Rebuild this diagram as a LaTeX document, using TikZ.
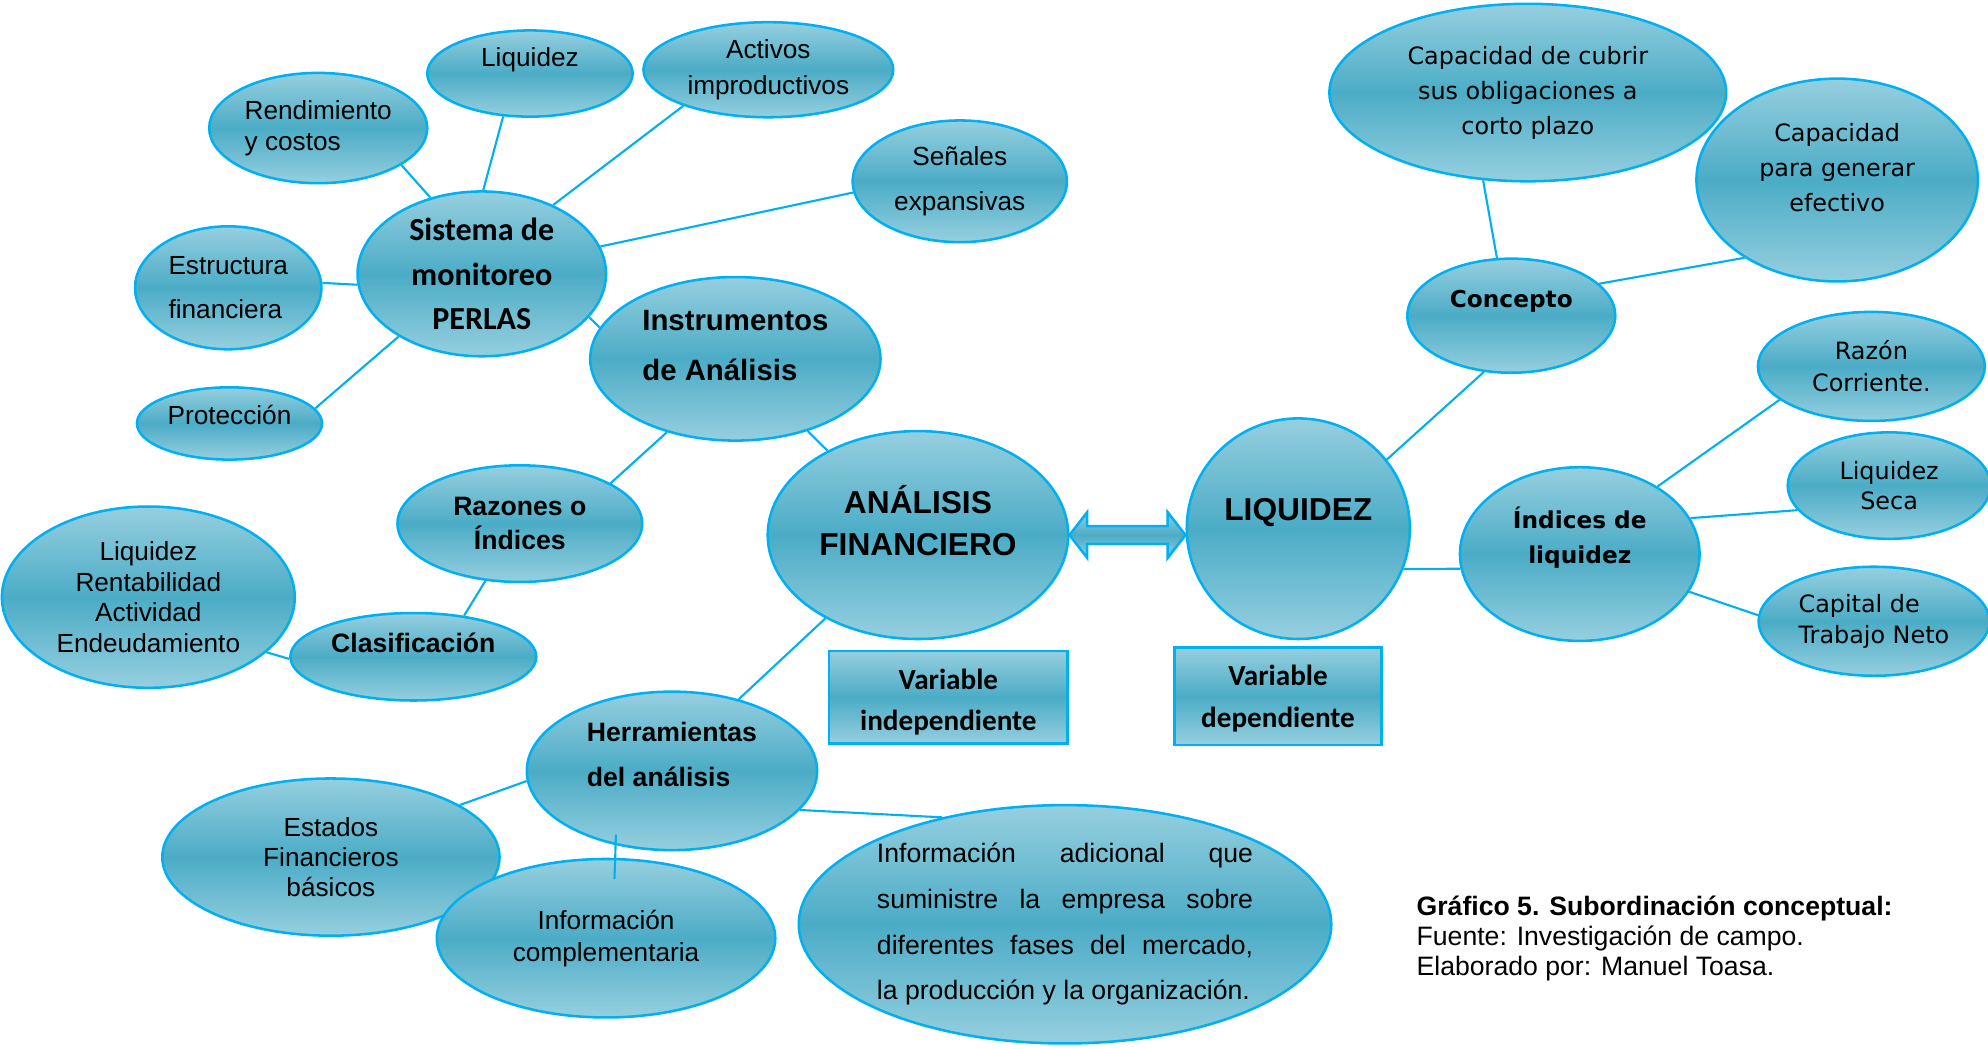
\documentclass[tikz,border=0pt]{standalone}
\usepackage{fontspec}
\setmainfont{Liberation Sans}
\newfontfamily\calibri{Carlito}
\newfontfamily\dejavu{DejaVu Sans}
\usetikzlibrary{shapes.geometric,calc}

\definecolor{aquaLite}{RGB}{150,207,223}
\definecolor{aquaDeep}{RGB}{75,172,198}
\definecolor{aquaLine}{RGB}{0,176,240}

\newcommand{\fs}[2]{\fontsize{#1}{#2}\selectfont}

\begin{document}
\begin{tikzpicture}[x=0.6pt, y=-0.6pt,
        bubble/.style={ellipse, draw=aquaLine, line width=1.2pt, inner sep=0pt, align=center,
            top color=aquaLite, bottom color=aquaLite, middle color=aquaDeep},
        varbox/.style={rectangle, draw=aquaLine, line width=1.2pt, inner sep=0pt, align=center,
            top color=aquaLite, bottom color=aquaLite, middle color=aquaDeep},
        dblarrow/.style={draw=aquaLine, line width=1.2pt,
            top color=aquaLite, bottom color=aquaLite, middle color=aquaDeep},
        dims/.style 2 args={minimum width=#1*0.6pt, minimum height=#2*0.6pt},
        link/.style={draw=aquaLine, line width=1pt}]

        \useasboundingbox (0,0) rectangle (1568,827);

        % 1. Sistema de monitoreo PERLAS (top left)
        \node[bubble, dims={172}{87}, align=left, font=\fs{12.4}{14.4}] (rend) at (251,101) {Rendimiento\\y costos};
        \node[bubble, dims={162}{68}, font=\fs{12.4}{14.4}, text depth=15.8pt] (liqA) at (418,58) {Liquidez};
        \node[bubble, dims={197}{75}, font=\fs{12.4}{16.8}] (activos) at (606,55) {Activos\\improductivos};
        \node[bubble, dims={169}{96}, font=\fs{12.4}{21.6}] (senales) at (757,143) {Señales\\expansivas};
        \node[bubble, dims={147}{97}, align=left, font=\fs{12.4}{21}] (estruc) at (180,227) {Estructura\\financiera};
        \node[bubble, dims={146}{57}, font=\fs{12.4}{14.4}, text depth=8.4pt] (protec) at (181,334) {Protección};
        \node[bubble, dims={196}{130}, font=\calibri\bfseries\fs{15.2}{21}] (sistema) at (380,216) {Sistema de\\monitoreo\\PERLAS};

        % 2. Instrumentos and Razones
        \node[bubble, dims={229}{129}, align=left, font=\bfseries\fs{13.9}{23.4}, text depth=12.6pt] (instr) at (580,283) {Instrumentos\\de Análisis};
        \node[bubble, dims={193}{92}, font=\bfseries\fs{12.6}{16.2}] (razones) at (410,413) {Razones o\\Índices};
        \node[bubble, dims={231}{143}, font=\fs{12.4}{14.4}] (clases) at (117,471) {Liquidez\\Rentabilidad\\Actividad\\Endeudamiento};
        \node[bubble, dims={194}{69}, font=\bfseries\fs{12.6}{14.4}, text depth=13.2pt] (clasif) at (326,518) {Clasificación};

        % 3. The two variables
        \node[bubble, dims={237}{164}, font=\bfseries\fs{15}{19.8}, text depth=13.8pt] (analisis) at (724,422) {ANÁLISIS\\FINANCIERO};
        \node[bubble, dims={176}{174}, font=\bfseries\fs{15}{18}, text depth=18.5pt] (liquidez) at (1024,417) {LIQUIDEZ};
        \node[varbox, dims={188}{73}, font=\calibri\bfseries\fs{13.8}{19.8}, text height=34pt] (varind) at (748,550) {Variable\\independiente};
        \node[varbox, dims={163}{77}, font=\calibri\bfseries\fs{13.8}{19.8}, text height=32pt] (vardep) at (1008,549) {Variable\\dependiente};

        % double arrow between them
        \coordinate (arrL) at (analisis.east);
        \coordinate (arrR) at (arrL -| liquidez.west);
        \draw[dblarrow] (arrL) -- ++(14,-18) -- ++(0,11) -- ($(arrR)+(-14,-7)$) -- ++(0,-11) -- (arrR)
            -- ++(-14,18) -- ++(0,-11) -- ($(arrL)+(14,7)$) -- ++(0,11) -- cycle;

        % 4. Herramientas del analisis (bottom)
        \node[bubble, dims={229}{125}, align=left, font=\bfseries\fs{12.6}{21.6}, text depth=15.6pt] (herram) at (530,608) {Herramientas\\del análisis};
        \node[bubble, dims={266}{124}, font=\fs{12.4}{14.4}] (estados) at (261,676) {Estados\\Financieros\\básicos};
        \node[bubble, dims={267}{125}, font=\fs{12.4}{15}] (infcomp) at (478,740) {Información\\complementaria};
        \node[bubble, dims={420}{188}, text width=178pt, align=justify, font=\fs{12.6}{21.6}] (infadic) at (840,729)
            {Información adicional que\linebreak suministre la empresa sobre\linebreak diferentes fases del mercado,\linebreak la producción y la organización.};

        % 5. Liquidez (right side)
        \node[bubble, dims={313}{140}, font=\dejavu\fs{11.3}{16.5}] (capcub) at (1205,73) {Capacidad de cubrir\\sus obligaciones a\\corto plazo};
        \node[bubble, dims={222}{160}, font=\dejavu\fs{11.3}{16.5}, text depth=12pt] (capgen) at (1449,142) {Capacidad\\para generar\\efectivo};
        \node[bubble, dims={164}{90}, font=\dejavu\bfseries\fs{11}{14}, text depth=15.5pt] (concepto) at (1192,249) {Concepto};
        \node[bubble, dims={189}{137}, font=\dejavu\bfseries\fs{11}{16.8}, text depth=17.9pt] (indices) at (1246,437) {Índices de\\liquidez};
        \node[bubble, dims={179}{86}, font=\dejavu\fs{11.3}{15}] (razon) at (1476,289) {Razón\\Corriente.};
        \node[bubble, dims={160}{84}, font=\dejavu\fs{11.3}{14.4}] (liqseca) at (1490,383) {Liquidez\\Seca};
        \node[bubble, dims={182}{86}, align=left, font=\dejavu\fs{11.3}{14.4}] (capital) at (1478,490) {Capital de\\Trabajo Neto};

        % 6. Connectors
        \draw[link] (rend.-24) -- (sistema.124);
        \draw[link] (liqA.238) -- (sistema.89);
        \draw[link] (sistema.44) -- (activos.203);
        \draw[link] (sistema.13) -- (senales.186);
        \draw[link] (estruc.3) -- (sistema.185);
        \draw[link] (protec.10) -- (sistema.217);
        \draw[link] (sistema.-22) -- (instr.167);
        \draw[link] (instr.227) -- (razones.24);
        \draw[link] (razones.239) -- (clasif.39);
        \draw[link] (clases.-25) -- (clasif.181);
        \draw[link] (instr.-45) -- (analisis.137);
        \draw[link] (analisis.222) -- (herram.47);
        \draw[link] (herram.184) -- (estados.22);
        \draw[link] ([yshift=5pt]herram.233) -- ([yshift=-10pt]infcomp.84);
        \draw[link] (herram.-17) -- (infadic.139);
        \draw[link] (capcub.243) -- (concepto.104);
        \draw[link] (concepto.20) -- (capgen.220);
        \draw[link] (concepto.244) -- (liquidez.38);
        \draw[link] (liquidez.-21) -- (indices.187);
        \draw[link] (indices.41) -- (razon.200);
        \draw[link] (indices.18) -- (liqseca.195);
        \draw[link] (indices.-19) -- (capital.177);

        % 7. Caption
        \node[anchor=north west, align=left, inner sep=0pt, font=\fs{12.6}{14.4}] (caption) at (1117,706)
            {\textbf{Gráfico 5. Subordinación conceptual:}\\Fuente: Investigación de campo.\\Elaborado por: Manuel Toasa.};

    \end{tikzpicture}
\end{document}
